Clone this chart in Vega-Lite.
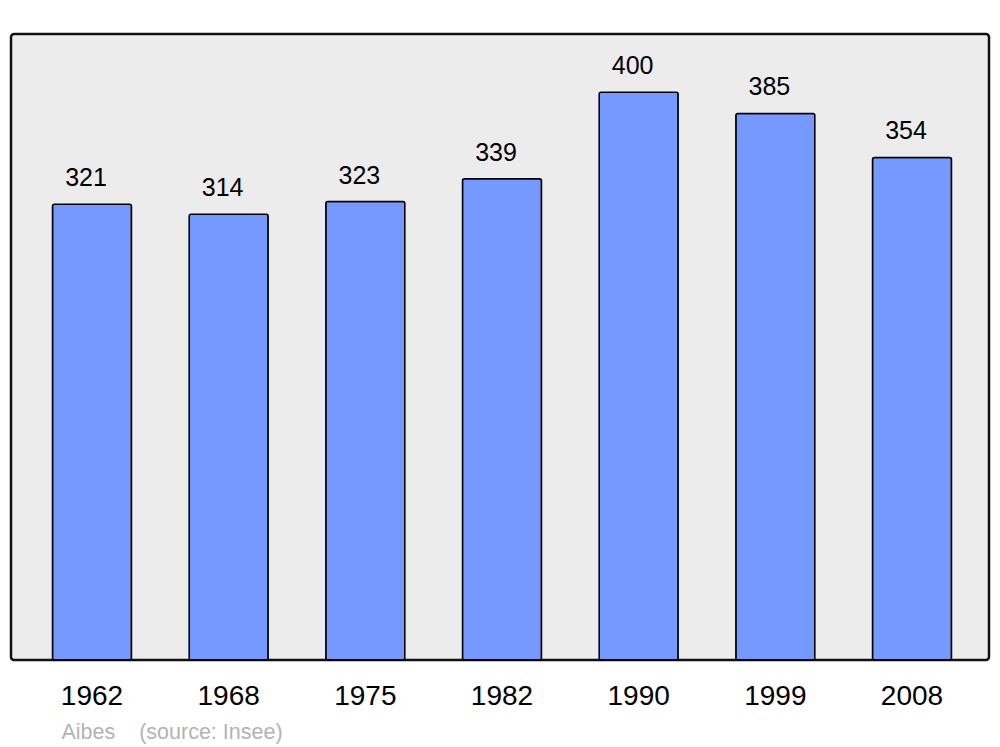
{
  "$schema": "https://vega.github.io/schema/vega-lite/v6.json",
  "width": 978,
  "height": 626,
  "autosize": {"type": "none"},
  "padding": {"left": 11, "top": 34, "right": 11, "bottom": 87},
  "background": "white",
  "data": {
    "values": [
      {"year": "1962", "pop": 321},
      {"year": "1968", "pop": 314},
      {"year": "1975", "pop": 323},
      {"year": "1982", "pop": 339},
      {"year": "1990", "pop": 400},
      {"year": "1999", "pop": 385},
      {"year": "2008", "pop": 354}
    ]
  },
  "encoding": {
    "x": {
      "field": "year",
      "type": "nominal",
      "sort": null,
      "scale": {"range": [2, 980], "paddingInner": 0.422, "paddingOuter": 0.289},
      "axis": {
        "title": "Aibes\u00a0\u00a0\u00a0 (source: Insee)",
        "titleColor": "#b3b3b3",
        "titleFont": "Liberation Sans",
        "titleFontSize": 21.5,
        "titleFontWeight": "normal",
        "titleAlign": "left",
        "titleAnchor": "start",
        "titleBaseline": "alphabetic",
        "titleX": 50,
        "titleY": 78,
        "labelAngle": 0,
        "labelFont": "Liberation Sans",
        "labelFontSize": 28,
        "labelColor": "black",
        "labelBaseline": "alphabetic",
        "labelPadding": 44,
        "ticks": false,
        "tickSize": 0,
        "domain": false,
        "grid": false
      }
    },
    "y": {
      "field": "pop",
      "type": "quantitative",
      "scale": {"domain": [0, 441], "nice": false},
      "axis": null
    }
  },
  "layer": [
    {
      "mark": {"type": "bar", "fill": "#7599ff", "stroke": "black", "strokeWidth": 1.5, "cornerRadius": 2}
    },
    {
      "mark": {"type": "text", "dy": -18, "dx": -6, "baseline": "alphabetic", "font": "Liberation Sans", "fontSize": 25, "color": "black"},
      "encoding": {"text": {"field": "pop", "type": "quantitative"}}
    }
  ],
  "config": {
    "view": {"fill": "#ececec", "stroke": "#111111", "strokeWidth": 2.5, "cornerRadius": 3}
  }
}
